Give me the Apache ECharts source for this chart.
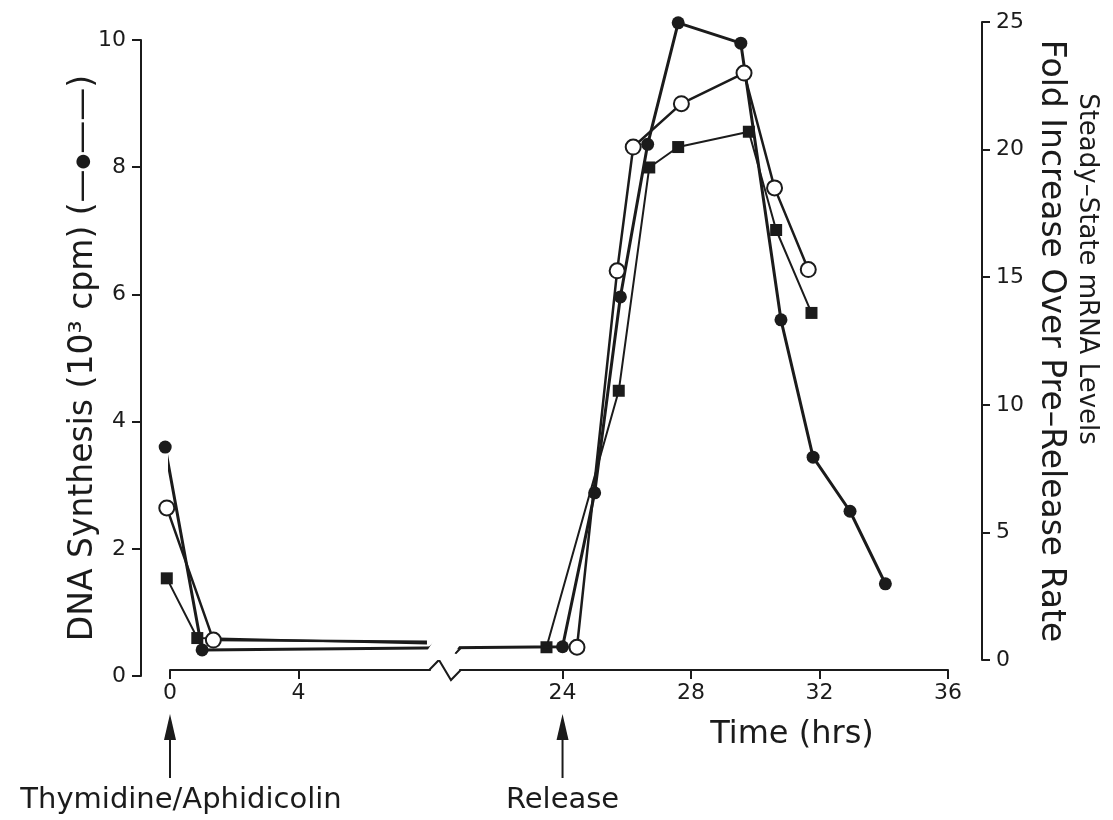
<!DOCTYPE html>
<html lang="en">
<head>
    <meta charset="UTF-8">
    <title>DNA synthesis and mRNA levels after release</title>
    <script src="https://cdn.jsdelivr.net/npm/echarts@6.0.0/dist/echarts.min.js"></script>
    <style>
        html, body { margin: 0; padding: 0; background: #fff; }
        #main { width: 1113px; height: 820px; }
    </style>
</head>
<body>
    <div id="main"></div>
    <script type="text/javascript">
        // filled circles: DNA synthesis (10^3 cpm), left axis
        var dnaHours  = [-0.15, 1.0, 24.0, 25.0, 25.8, 26.65, 27.6, 29.55, 30.8, 31.8, 32.95, 34.05];
        var dnaValues = [3.60, 0.41, 0.46, 2.88, 5.96, 8.36, 10.27, 9.95, 5.60, 3.44, 2.59, 1.45];

        // open circles: fold increase, right axis (block phase, then after release)
        // the last block entry is where the drawn line stops at the axis break
        var openBlockHours    = [-0.1, 1.35, 8.0];
        var openBlockValues   = [5.96, 0.78, 0.72];
        var openReleaseHours  = [24.45, 25.7, 26.2, 27.7, 29.65, 30.6, 31.65];
        var openReleaseValues = [0.5, 15.25, 20.1, 21.8, 23.0, 18.5, 15.3];

        // filled squares: fold increase, right axis
        var squareBlockHours    = [-0.1, 0.85, 8.0];
        var squareBlockValues   = [3.2, 0.86, 0.65];
        var squareReleaseHours  = [23.5, 25.75, 26.7, 27.6, 29.8, 30.65, 31.75];
        var squareReleaseValues = [0.5, 10.55, 19.3, 20.1, 20.7, 16.85, 13.6];

        var timeTicks = [0, 4, 24, 28, 32, 36];
        var timeBreak = { start: 8.1, end: 20.8 };

        var FONT = '"DejaVu Sans", "Liberation Sans", sans-serif';
        var INK = '#1b1b1b';

        function pairs(xs, ys) {
            return xs.map(function (x, i) { return [x, ys[i]]; });
        }

        // block phase + gap + release phase; no marker where the block line runs into the break
        function twoPhase(bx, by, rx, ry) {
            var block = pairs(bx, by).map(function (p, i) {
                return i === bx.length - 1 ? { value: p, symbol: 'none' } : p;
            });
            return block.concat([['-', '-']], pairs(rx, ry));
        }

        var chartDom = document.getElementById('main');
        var myChart = echarts.init(chartDom);

        function timeAxis(gridIndex, visible) {
            return {
                type: 'value',
                gridIndex: gridIndex,
                min: 0,
                max: 36,
                interval: 4,
                show: visible,
                offset: visible ? 10 : 0,
                breaks: [{ start: timeBreak.start, end: timeBreak.end, gap: '3.8%' }],
                breakArea: {
                    show: true,
                    expandOnClick: false,
                    zigzagAmplitude: 5,
                    itemStyle: { color: '#fff', borderWidth: 0, opacity: 1 }
                },
                axisLine: { show: true, onZero: false, lineStyle: { color: INK, width: 2 } },
                axisTick: { show: true, inside: false, length: 9, customValues: timeTicks,
                            lineStyle: { color: INK, width: 2 } },
                axisLabel: { show: true, customValues: timeTicks, margin: 12,
                             fontFamily: FONT, fontSize: 22, color: INK },
                splitLine: { show: false }
            };
        }

        var option = {
            animation: false,
            backgroundColor: '#fff',
            grid: [
                { left: 170, right: 165, top: 40, height: 636 },
                { left: 170, right: 165, top: 22, height: 638 }
            ],
            xAxis: [timeAxis(0, false), timeAxis(1, true)],
            yAxis: [
                {
                    type: 'value', gridIndex: 0, position: 'left', offset: 29,
                    min: 0, max: 10, interval: 2,
                    name: 'DNA Synthesis (10³ cpm) (—{dot|●}——)',
                    nameLocation: 'middle', nameRotate: 90, nameGap: 41,
                    nameMoveOverlap: false,
                    nameTextStyle: { fontFamily: FONT, fontSize: 33, color: INK,
                                     rich: { dot: { fontFamily: FONT, fontSize: 18, color: INK } } },
                    axisLine: { show: true, onZero: false, lineStyle: { color: INK, width: 2 } },
                    axisTick: { show: true, length: 9, lineStyle: { color: INK, width: 2 } },
                    axisLabel: { margin: 15, fontFamily: FONT, fontSize: 22, color: INK },
                    splitLine: { show: false }
                },
                {
                    type: 'value', gridIndex: 1, position: 'right', offset: 34,
                    min: 0, max: 25, interval: 5,
                    name: 'Fold Increase Over Pre–Release Rate',
                    nameLocation: 'middle', nameRotate: -90, nameGap: 52,
                    nameMoveOverlap: false,
                    nameTextStyle: { fontFamily: FONT, fontSize: 33, color: INK },
                    axisLine: { show: true, onZero: false, lineStyle: { color: INK, width: 2 } },
                    axisTick: { show: true, length: 8, lineStyle: { color: INK, width: 2 } },
                    axisLabel: { margin: 14, fontFamily: FONT, fontSize: 22, color: INK },
                    splitLine: { show: false }
                }
            ],
            series: [
                {
                    name: 'Squares',
                    type: 'line',
                    xAxisIndex: 1, yAxisIndex: 1,
                    clip: false,
                    showAllSymbol: true,
                    symbol: 'rect', symbolSize: 12,
                    itemStyle: { color: INK },
                    lineStyle: { color: INK, width: 2 },
                    data: twoPhase(squareBlockHours, squareBlockValues,
                                   squareReleaseHours, squareReleaseValues),
                    z: 3
                },
                {
                    name: 'DNA synthesis',
                    type: 'line',
                    xAxisIndex: 0, yAxisIndex: 0,
                    clip: false,
                    showAllSymbol: true,
                    symbol: 'circle', symbolSize: 13,
                    itemStyle: { color: INK },
                    lineStyle: { color: INK, width: 3 },
                    data: pairs(dnaHours, dnaValues),
                    z: 4
                },
                {
                    name: 'Open circles',
                    type: 'line',
                    xAxisIndex: 1, yAxisIndex: 1,
                    clip: false,
                    showAllSymbol: true,
                    symbol: 'circle', symbolSize: 15,
                    itemStyle: { color: '#fff', borderColor: INK, borderWidth: 2 },
                    lineStyle: { color: INK, width: 2.5 },
                    data: twoPhase(openBlockHours, openBlockValues,
                                   openReleaseHours, openReleaseValues),
                    z: 5
                }
            ]
        };

        myChart.setOption(option);

        // arrows and labels under the time axis, placed at 0 h and 24 h
        function arrow(hour, label, labelDx) {
            var x = myChart.convertToPixel({ xAxisIndex: 1 }, hour);
            return [
                { type: 'line', shape: { x1: x, y1: 778, x2: x, y2: 735 },
                  style: { stroke: INK, lineWidth: 2 } },
                { type: 'polygon', shape: { points: [[x, 714], [x - 6, 740], [x + 6, 740]] },
                  style: { fill: INK } },
                { type: 'text', x: x + labelDx, y: 800,
                  style: { text: label, font: '29px ' + FONT, fill: INK,
                           align: 'center', verticalAlign: 'middle' } }
            ];
        }

        // zigzag mark across the axis break, for the time axis and the DNA line
        function zigzag(y) {
            var xs = myChart.convertToPixel({ xAxisIndex: 1 }, timeBreak.start);
            var xe = myChart.convertToPixel({ xAxisIndex: 1 }, timeBreak.end);
            var m = (xs + xe) / 2;
            return {
                type: 'polyline', z: 10,
                shape: { points: [[xs - 1, y], [m - 6, y - 10], [m + 6, y + 10], [xe + 1, y]] },
                style: { stroke: INK, lineWidth: 2, fill: null }
            };
        }

        var axisY = myChart.convertToPixel({ yAxisIndex: 1 }, 0) + 10;
        var t0 = dnaHours[1], t1 = dnaHours[2];
        var dnaAtBreak = dnaValues[1] + (dnaValues[2] - dnaValues[1]) *
            ((timeBreak.start + timeBreak.end) / 2 - t0) / (t1 - t0);
        var dnaY = myChart.convertToPixel({ yAxisIndex: 0 }, dnaAtBreak);

        myChart.setOption({
            graphic: [].concat(
                arrow(0, 'Thymidine/Aphidicolin', 11),
                arrow(24, 'Release', 0),
                [
                    zigzag(axisY),
                    zigzag(dnaY),
                    { type: 'text', x: 792, y: 735,
                      style: { text: 'Time (hrs)', font: '32px ' + FONT, fill: INK,
                               align: 'center', verticalAlign: 'middle' } },
                    { type: 'text', x: 1087, y: 269, rotation: -Math.PI / 2,
                      style: { text: 'Steady–State mRNA Levels', font: '26px ' + FONT, fill: INK,
                               align: 'center', verticalAlign: 'middle' } }
                ]
            )
        });
    </script>
</body>
</html>
